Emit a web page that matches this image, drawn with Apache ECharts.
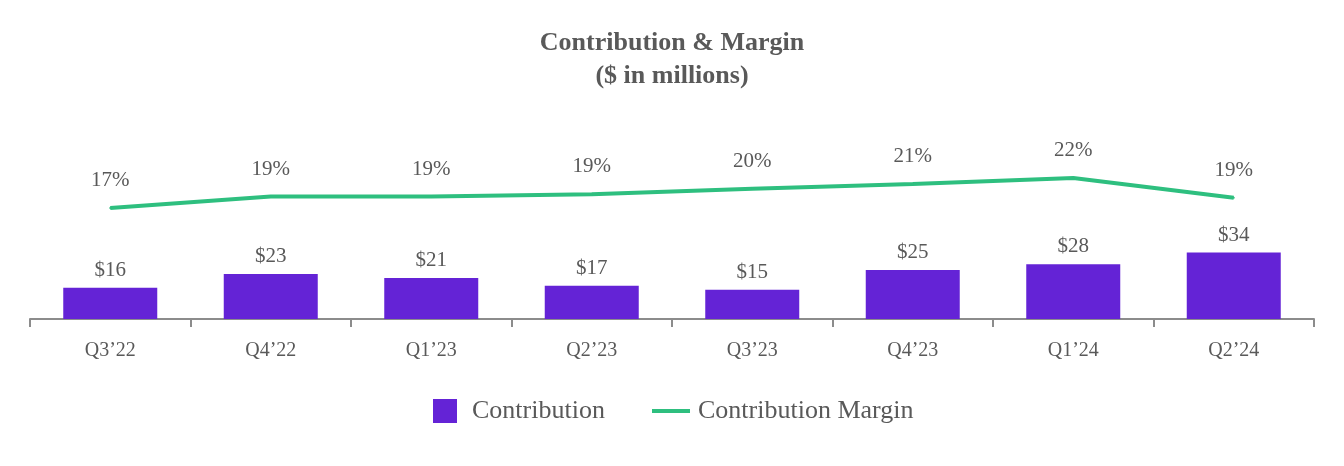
<!DOCTYPE html>
<html><head><meta charset="utf-8">
<script src="https://cdn.jsdelivr.net/npm/echarts@6/dist/echarts.min.js"></script>
<style>html,body{margin:0;padding:0;background:#fff}#c{width:1344px;height:466px}</style>
</head><body><div id="c"></div>
<script>
const categories = ['Q3\u201922','Q4\u201922','Q1\u201923','Q2\u201923','Q3\u201923','Q4\u201923','Q1\u201924','Q2\u201924'];
const contribution = [16, 23, 21, 17, 15, 25, 28, 34];
const margin = [17.0, 18.9, 18.9, 19.3, 20.2, 21.0, 22.0, 18.7];

const serif = 'Liberation Serif';
const grey = '#595959';
const green = '#2EBF7F';
const chart = echarts.init(document.getElementById('c'));
chart.setOption({
  animation: false,
  title: {
    text: 'Contribution & Margin\n($ in millions)',
    left: 'center', top: 22,
    textStyle: { fontFamily: serif, fontWeight: 'bold', fontSize: 26, color: grey, lineHeight: 33 }
  },
  legend: [{
    left: 433, top: 398, padding: 0, itemWidth: 24, itemHeight: 24,
    data: [{ name: 'Contribution', icon: 'rect' }],
    textStyle: { fontFamily: serif, fontSize: 26, color: grey, padding: [0, 0, 0, 10] }
  }, {
    left: 652, top: 398, padding: 0, itemWidth: 38, itemHeight: 4,
    data: [{ name: 'Contribution Margin', icon: 'rect', itemStyle: { color: green, opacity: 1 } }],
    textStyle: { fontFamily: serif, fontSize: 26, color: grey, padding: [0, 0, 0, 3] }
  }],
  grid: { left: 30, right: 30, top: 100, bottom: 147 },
  xAxis: {
    type: 'category', data: categories,
    axisLine: { lineStyle: { color: '#8c8c8c', width: 2 } },
    axisTick: { show: true, length: 8, lineStyle: { color: '#8c8c8c', width: 2 } },
    axisLabel: { fontFamily: serif, fontSize: 20, color: grey, margin: 22 }
  },
  yAxis: [
    { type: 'value', min: 0, max: 112, show: false, splitLine: { show: false } },
    { type: 'value', min: -1.5, max: 35, show: false, splitLine: { show: false } }
  ],
  series: [{
    name: 'Contribution', type: 'bar', data: contribution, yAxisIndex: 0,
    barWidth: 94, itemStyle: { color: '#6423D6' },
    label: { show: true, position: 'top', distance: 7, formatter: p => '$' + p.value,
      fontFamily: serif, fontSize: 21, color: grey }
  }, {
    name: 'Contribution Margin', type: 'line', data: margin, yAxisIndex: 1,
    symbol: 'circle', symbolSize: 2, showSymbol: true,
    lineStyle: { color: green, width: 4 }, itemStyle: { color: green },
    label: { show: true, position: 'top', distance: 16, formatter: p => Math.round(p.value) + '%',
      fontFamily: serif, fontSize: 21, color: grey }
  }]
});
</script></body></html>
